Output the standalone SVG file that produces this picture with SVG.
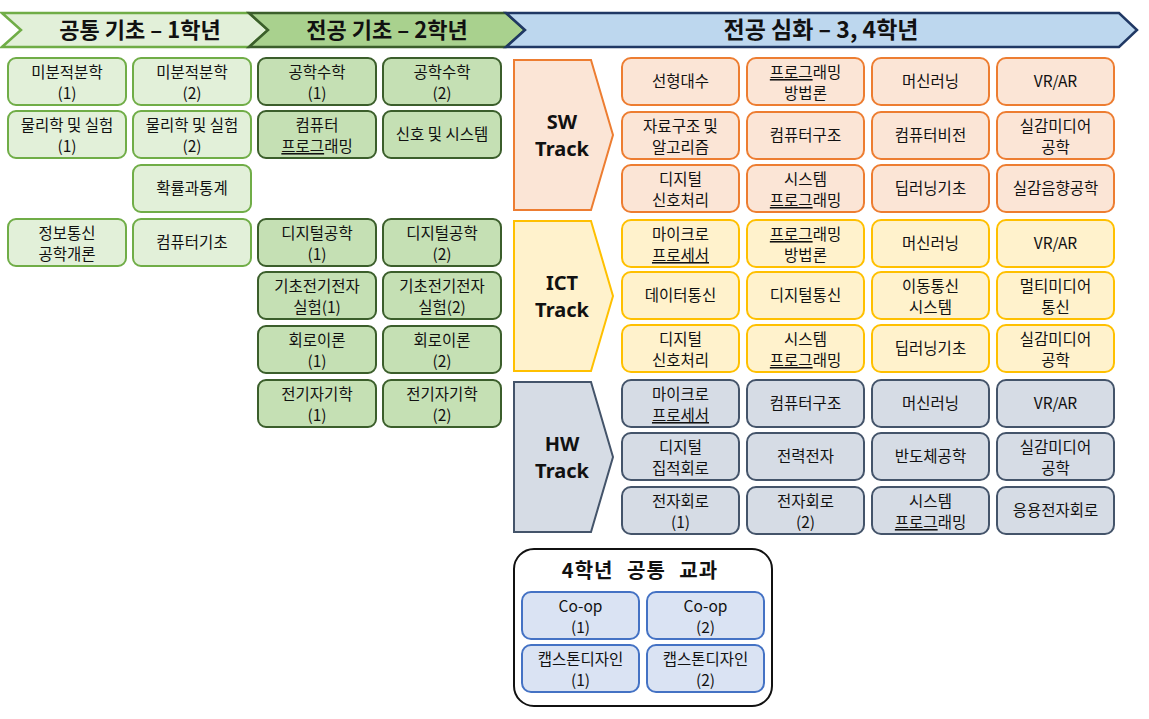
<svg xmlns="http://www.w3.org/2000/svg" width="1149" height="719" viewBox="0 0 1149 719">
<style>
text{font-family:"Noto Sans CJK KR","Noto Sans",sans-serif;fill:#111;text-anchor:middle}
.t{font-size:15.5px}
.h{font-size:22px;font-weight:bold}
.k{font-family:"Noto Sans","Noto Sans CJK KR",sans-serif;font-size:20px;font-weight:bold}
.g1{fill:#e2f0d9;stroke:#70ad47;stroke-width:2}
.g2{fill:#c5e0b4;stroke:#3b5e2b;stroke-width:2}
.sw{fill:#fbe5d6;stroke:#ed7d31;stroke-width:2}
.ict{fill:#fff2cc;stroke:#ffc000;stroke-width:2}
.hw{fill:#d6dce5;stroke:#44546a;stroke-width:2}
.cm{fill:#dae3f3;stroke:#4472c4;stroke-width:2}
.u{text-decoration:underline}
</style>
<rect width="1149" height="719" fill="#fff"/>
<g id="headers">
<g id="hdr1"><polygon points="2,13 249,13 268,30 249,47 2,47 21,30" fill="#e2f0d9" stroke="#70ad47" stroke-width="2.5"/><text class="h" x="140" y="38">공통 기초 – 1학년</text></g>
<g id="hdr2"><polygon points="249,13 506,13 525,30 506,47 249,47 268,30" fill="#a9d18e" stroke="#3b5e2b" stroke-width="2.5"/><text class="h" x="387" y="38">전공 기초 – 2학년</text></g>
<g id="hdr3"><polygon points="506,13 1119,13 1137,30 1119,47 506,47 525,30" fill="#bdd7ee" stroke="#203864" stroke-width="2.5"/><text class="h" x="821" y="38" style="font-size:23px">전공 심화 – 3, 4학년</text></g>
</g>
<g id="connectors"></g>
<g id="year1">
<g id="c1a"><rect class="g1" x="8" y="58" width="118" height="47" rx="8"/><text class="t" x="67" y="78">미분적분학<tspan x="67" dy="21">(1)</tspan></text></g>
<g id="c1b"><rect class="g1" x="133" y="58" width="118" height="47" rx="8"/><text class="t" x="192" y="78">미분적분학<tspan x="192" dy="21">(2)</tspan></text></g>
<g id="c1c"><rect class="g1" x="8" y="111" width="118" height="47" rx="8"/><text class="t" x="67" y="131">물리학 및 실험<tspan x="67" dy="21">(1)</tspan></text></g>
<g id="c1d"><rect class="g1" x="133" y="111" width="118" height="47" rx="8"/><text class="t" x="192" y="131">물리학 및 실험<tspan x="192" dy="21">(2)</tspan></text></g>
<g id="c1e"><rect class="g1" x="133" y="165" width="118" height="47" rx="8"/><text class="t" x="192" y="194">확률과통계</text></g>
<g id="c1f"><rect class="g1" x="8" y="219" width="118" height="47" rx="8"/><text class="t" x="67" y="239">정보통신<tspan x="67" dy="21">공학개론</tspan></text></g>
<g id="c1g"><rect class="g1" x="133" y="219" width="118" height="47" rx="8"/><text class="t" x="192" y="248">컴퓨터기초</text></g>
</g>
<g id="year2">
<g id="c2a"><rect class="g2" x="258" y="58" width="118" height="47" rx="8"/><text class="t" x="317" y="78">공학수학<tspan x="317" dy="21">(1)</tspan></text></g>
<g id="c2b"><rect class="g2" x="383" y="58" width="118" height="47" rx="8"/><text class="t" x="442" y="78">공학수학<tspan x="442" dy="21">(2)</tspan></text></g>
<g id="c2c"><rect class="g2" x="258" y="111" width="118" height="47" rx="8"/><text class="t" x="317" y="131">컴퓨터<tspan x="317" dy="21"><tspan class="u">프로그</tspan>래밍</tspan></text></g>
<g id="c2d"><rect class="g2" x="383" y="111" width="118" height="47" rx="8"/><text class="t" x="442" y="140">신호 및 시스템</text></g>
<g id="c2e"><rect class="g2" x="258" y="219" width="118" height="47" rx="8"/><text class="t" x="317" y="239">디지털공학<tspan x="317" dy="21">(1)</tspan></text></g>
<g id="c2f"><rect class="g2" x="383" y="219" width="118" height="47" rx="8"/><text class="t" x="442" y="239">디지털공학<tspan x="442" dy="21">(2)</tspan></text></g>
<g id="c2g"><rect class="g2" x="258" y="272" width="118" height="47" rx="8"/><text class="t" x="317" y="292">기초전기전자<tspan x="317" dy="21">실험(1)</tspan></text></g>
<g id="c2h"><rect class="g2" x="383" y="272" width="118" height="47" rx="8"/><text class="t" x="442" y="292">기초전기전자<tspan x="442" dy="21">실험(2)</tspan></text></g>
<g id="c2i"><rect class="g2" x="258" y="326" width="118" height="47" rx="8"/><text class="t" x="317" y="346">회로이론<tspan x="317" dy="21">(1)</tspan></text></g>
<g id="c2j"><rect class="g2" x="383" y="326" width="118" height="47" rx="8"/><text class="t" x="442" y="346">회로이론<tspan x="442" dy="21">(2)</tspan></text></g>
<g id="c2k"><rect class="g2" x="258" y="380" width="118" height="47" rx="8"/><text class="t" x="317" y="400">전기자기학<tspan x="317" dy="21">(1)</tspan></text></g>
<g id="c2l"><rect class="g2" x="383" y="380" width="118" height="47" rx="8"/><text class="t" x="442" y="400">전기자기학<tspan x="442" dy="21">(2)</tspan></text></g>
</g>
<g id="swTrack">
<g id="swLabel"><polygon class="sw" points="514,60 591,60 613,135 591,210 514,210"/><text class="k" x="562" y="129">SW</text><text class="k" x="562" y="156">Track</text></g>
<g id="sw1"><rect class="sw" x="622" y="58" width="117" height="47" rx="9"/><text class="t" x="680.5" y="87">선형대수</text></g>
<g id="sw2"><rect class="sw" x="747" y="58" width="117" height="47" rx="9"/><text class="t" x="805.5" y="78"><tspan class="u">프로그</tspan>래밍<tspan x="805.5" dy="21">방법론</tspan></text></g>
<g id="sw3"><rect class="sw" x="872" y="58" width="117" height="47" rx="9"/><text class="t" x="930.5" y="87">머신러닝</text></g>
<g id="sw4"><rect class="sw" x="997" y="58" width="117" height="47" rx="9"/><text class="t" x="1055.5" y="87">VR/AR</text></g>
<g id="sw5"><rect class="sw" x="622" y="112" width="117" height="47" rx="9"/><text class="t" x="680.5" y="132">자료구조 및<tspan x="680.5" dy="21">알고리즘</tspan></text></g>
<g id="sw6"><rect class="sw" x="747" y="112" width="117" height="47" rx="9"/><text class="t" x="805.5" y="141">컴퓨터구조</text></g>
<g id="sw7"><rect class="sw" x="872" y="112" width="117" height="47" rx="9"/><text class="t" x="930.5" y="141">컴퓨터비전</text></g>
<g id="sw8"><rect class="sw" x="997" y="112" width="117" height="47" rx="9"/><text class="t" x="1055.5" y="132">실감미디어<tspan x="1055.5" dy="21">공학</tspan></text></g>
<g id="sw9"><rect class="sw" x="622" y="165" width="117" height="47" rx="9"/><text class="t" x="680.5" y="185">디지털<tspan x="680.5" dy="21">신호처리</tspan></text></g>
<g id="sw10"><rect class="sw" x="747" y="165" width="117" height="47" rx="9"/><text class="t" x="805.5" y="185">시스템<tspan x="805.5" dy="21"><tspan class="u">프로그</tspan>래밍</tspan></text></g>
<g id="sw11"><rect class="sw" x="872" y="165" width="117" height="47" rx="9"/><text class="t" x="930.5" y="194">딥러닝기초</text></g>
<g id="sw12"><rect class="sw" x="997" y="165" width="117" height="47" rx="9"/><text class="t" x="1055.5" y="194">실감음향공학</text></g>
</g>
<g id="ictTrack">
<g id="ictLabel"><polygon class="ict" points="514,221 591,221 613,296 591,371 514,371"/><text class="k" x="562" y="290">ICT</text><text class="k" x="562" y="317">Track</text></g>
<g id="ict1"><rect class="ict" x="622" y="220" width="117" height="47" rx="9"/><text class="t" x="680.5" y="240">마이크로<tspan x="680.5" dy="21" class="u">프로세서</tspan></text></g>
<g id="ict2"><rect class="ict" x="747" y="220" width="117" height="47" rx="9"/><text class="t" x="805.5" y="240"><tspan class="u">프로그</tspan>래밍<tspan x="805.5" dy="21">방법론</tspan></text></g>
<g id="ict3"><rect class="ict" x="872" y="220" width="117" height="47" rx="9"/><text class="t" x="930.5" y="249">머신러닝</text></g>
<g id="ict4"><rect class="ict" x="997" y="220" width="117" height="47" rx="9"/><text class="t" x="1055.5" y="249">VR/AR</text></g>
<g id="ict5"><rect class="ict" x="622" y="272" width="117" height="47" rx="9"/><text class="t" x="680.5" y="301">데이터통신</text></g>
<g id="ict6"><rect class="ict" x="747" y="272" width="117" height="47" rx="9"/><text class="t" x="805.5" y="301">디지털통신</text></g>
<g id="ict7"><rect class="ict" x="872" y="272" width="117" height="47" rx="9"/><text class="t" x="930.5" y="292">이동통신<tspan x="930.5" dy="21">시스템</tspan></text></g>
<g id="ict8"><rect class="ict" x="997" y="272" width="117" height="47" rx="9"/><text class="t" x="1055.5" y="292">멀티미디어<tspan x="1055.5" dy="21">통신</tspan></text></g>
<g id="ict9"><rect class="ict" x="622" y="325" width="117" height="47" rx="9"/><text class="t" x="680.5" y="345">디지털<tspan x="680.5" dy="21">신호처리</tspan></text></g>
<g id="ict10"><rect class="ict" x="747" y="325" width="117" height="47" rx="9"/><text class="t" x="805.5" y="345">시스템<tspan x="805.5" dy="21"><tspan class="u">프로그</tspan>래밍</tspan></text></g>
<g id="ict11"><rect class="ict" x="872" y="325" width="117" height="47" rx="9"/><text class="t" x="930.5" y="354">딥러닝기초</text></g>
<g id="ict12"><rect class="ict" x="997" y="325" width="117" height="47" rx="9"/><text class="t" x="1055.5" y="345">실감미디어<tspan x="1055.5" dy="21">공학</tspan></text></g>
</g>
<g id="hwTrack">
<g id="hwLabel"><polygon class="hw" points="514,382 591,382 613,457 591,532 514,532"/><text class="k" x="562" y="451">HW</text><text class="k" x="562" y="478">Track</text></g>
<g id="hw1"><rect class="hw" x="622" y="380" width="117" height="47" rx="9"/><text class="t" x="680.5" y="400">마이크로<tspan x="680.5" dy="21" class="u">프로세서</tspan></text></g>
<g id="hw2"><rect class="hw" x="747" y="380" width="117" height="47" rx="9"/><text class="t" x="805.5" y="409">컴퓨터구조</text></g>
<g id="hw3"><rect class="hw" x="872" y="380" width="117" height="47" rx="9"/><text class="t" x="930.5" y="409">머신러닝</text></g>
<g id="hw4"><rect class="hw" x="997" y="380" width="117" height="47" rx="9"/><text class="t" x="1055.5" y="409">VR/AR</text></g>
<g id="hw5"><rect class="hw" x="622" y="433" width="117" height="47" rx="9"/><text class="t" x="680.5" y="453">디지털<tspan x="680.5" dy="21">집적회로</tspan></text></g>
<g id="hw6"><rect class="hw" x="747" y="433" width="117" height="47" rx="9"/><text class="t" x="805.5" y="462">전력전자</text></g>
<g id="hw7"><rect class="hw" x="872" y="433" width="117" height="47" rx="9"/><text class="t" x="930.5" y="462">반도체공학</text></g>
<g id="hw8"><rect class="hw" x="997" y="433" width="117" height="47" rx="9"/><text class="t" x="1055.5" y="453">실감미디어<tspan x="1055.5" dy="21">공학</tspan></text></g>
<g id="hw9"><rect class="hw" x="622" y="487" width="117" height="47" rx="9"/><text class="t" x="680.5" y="507">전자회로<tspan x="680.5" dy="21">(1)</tspan></text></g>
<g id="hw10"><rect class="hw" x="747" y="487" width="117" height="47" rx="9"/><text class="t" x="805.5" y="507">전자회로<tspan x="805.5" dy="21">(2)</tspan></text></g>
<g id="hw11"><rect class="hw" x="872" y="487" width="117" height="47" rx="9"/><text class="t" x="930.5" y="507">시스템<tspan x="930.5" dy="21"><tspan class="u">프로그</tspan>래밍</tspan></text></g>
<g id="hw12"><rect class="hw" x="997" y="487" width="117" height="47" rx="9"/><text class="t" x="1055.5" y="516">응용전자회로</text></g>
</g>
<g id="common4">
<rect x="514" y="549" width="258" height="157" rx="20" fill="#fff" stroke="#111" stroke-width="2"/>
<text x="640" y="578" style="font-size:20px;font-weight:bold;letter-spacing:1px;word-spacing:8px">4학년 공통 교과</text>
<g id="cm1"><rect class="cm" x="522" y="592" width="117" height="47" rx="9"/><text class="t" x="580.5" y="612">Co-op<tspan x="580.5" dy="21">(1)</tspan></text></g>
<g id="cm2"><rect class="cm" x="647" y="592" width="117" height="47" rx="9"/><text class="t" x="705.5" y="612">Co-op<tspan x="705.5" dy="21">(2)</tspan></text></g>
<g id="cm3"><rect class="cm" x="522" y="645" width="117" height="47" rx="9"/><text class="t" x="580.5" y="665">캡스톤디자인<tspan x="580.5" dy="21">(1)</tspan></text></g>
<g id="cm4"><rect class="cm" x="647" y="645" width="117" height="47" rx="9"/><text class="t" x="705.5" y="665">캡스톤디자인<tspan x="705.5" dy="21">(2)</tspan></text></g>
</g>
</svg>
